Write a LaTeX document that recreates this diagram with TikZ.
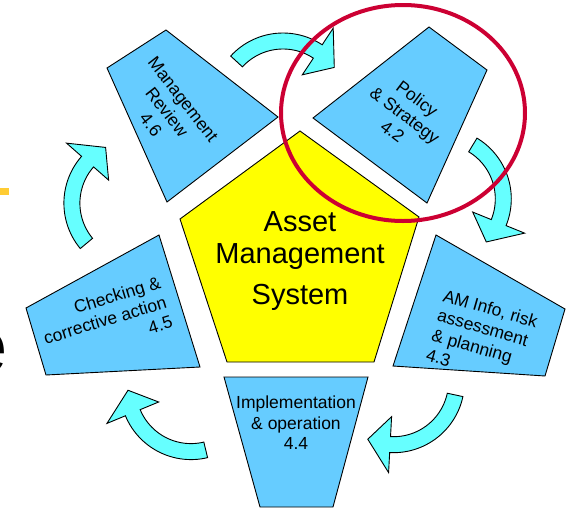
\documentclass[tikz,border=0pt]{standalone}
\usepackage{fontspec}
\setmainfont{Liberation Sans}
\usetikzlibrary{calc}
\definecolor{stageblue}{HTML}{66CCFF}
\definecolor{coreyellow}{HTML}{FFFF00}
\definecolor{flowcyan}{HTML}{66FFFF}
\definecolor{ringred}{HTML}{CC0033}
\definecolor{bargold}{HTML}{FFCC33}
\tikzset{
  stage/.style={draw=black, fill=stageblue, line width=0.9pt, line join=miter},
  core/.style={draw=black, fill=coreyellow, line width=0.9pt},
  flow/.style={draw=black, fill=flowcyan, line width=0.9pt, line join=miter},
  ring/.style={draw=ringred, line width=4pt},
  lab/.style={font=\fontsize{17.5}{20.5}\selectfont, align=center, inner sep=0pt},
  corelab/.style={font=\fontsize{29}{32}\selectfont, align=center, inner sep=0pt},
}
% curved arrow: centre x, centre y, tail angle
\newcommand{\flowarrow}[3]{%
  \pgfmathsetmacro{\aE}{#3+81}%
  \pgfmathsetmacro{\aT}{#3+102}%
  \draw[flow] plot[domain=#3:\aE, samples=30, variable=\t] ({#1+71*cos(\t)},{#2+71*sin(\t)})
    -- ({#1+91*cos(\aE)},{#2+91*sin(\aE)})
    -- ({#1+63*cos(\aT)},{#2+63*sin(\aT)})
    -- ({#1+35*cos(\aE)},{#2+35*sin(\aE)})
    -- plot[domain=\aE:#3, samples=30, variable=\t] ({#1+55*cos(\t)},{#2+55*sin(\t)})
    -- cycle;}

\begin{document}
\begin{tikzpicture}[x=1pt,y=-1pt]
  \useasboundingbox (0,0) rectangle (571,509);
  \clip (0,0) rectangle (571,509);
  % left edge leftovers
  \fill[bargold] (0,188) rectangle (8.5,195);
  \node[font=\fontsize{76}{76}\selectfont, inner sep=0pt, anchor=base east] (cut) at (7.5,372) {e};
  % arrows round the cycle
  \flowarrow{283}{104}{222.5}
  \flowarrow{440.3}{198.9}{301.1}
  \flowarrow{393.5}{381.7}{12.1}
  \flowarrow{191}{388.6}{76.5}
  \flowarrow{134.9}{203.2}{140.3}
  % stages
  \draw[stage] (107,68) -- (166,30) -- (278,117) -- (167,202) -- cycle;
  \draw[stage] (313,118) -- (429,27) -- (487,70) -- (427,203) -- cycle;
  \draw[stage] (436,235) -- (565,309) -- (545,376) -- (393,366) -- cycle;
  \draw[stage] (224,377) -- (368,377) -- (333,507) -- (260,507) -- cycle;
  \draw[stage] (26,308) -- (159,235) -- (200,367) -- (46,375) -- cycle;
  \node[lab, rotate=-52] (review) at (167,112) {Management\\Review\\4.6};
  \node[lab, rotate=-37] (policy) at (405,115) {Policy\\\& Strategy\\4.2};
  \node[lab, rotate=-16, align=left] (info) at (482,338) {AM Info, risk\\assessment\\\& planning\\4.3};
  \node[lab] (impl) at (296,423) {Implementation\\\& operation\\4.4};
  \node[lab, rotate=17, align=right] (check) at (105,320) {Checking \&\\corrective action\\4.5};
  % centre
  \draw[core] (300,131) -- (419,217) -- (374,362) -- (227,362) -- (180,219) -- cycle;
  \node[corelab] (ams) at (300,261) {Asset\\Management\\[9pt]System};
  % highlight
  \draw[ring] (403,113) ellipse [x radius=122, y radius=108];
\end{tikzpicture}
\end{document}
